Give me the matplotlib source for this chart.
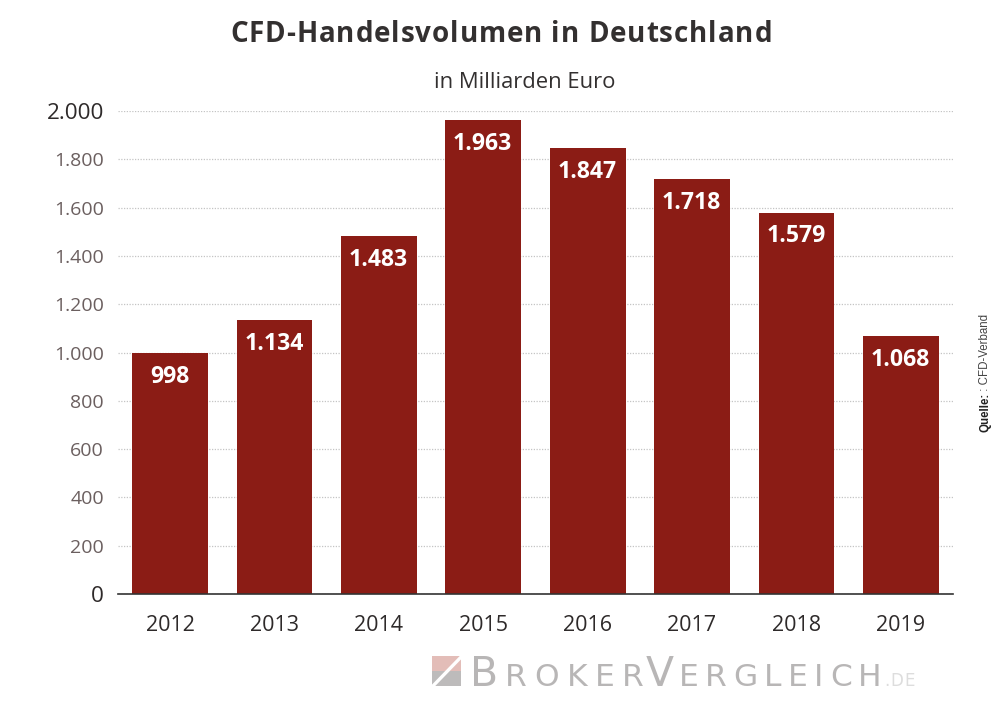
"""CFD-Handelsvolumen in Deutschland, bar chart with logo footer."""

import matplotlib

matplotlib.use("Agg")
import matplotlib.pyplot as plt
from matplotlib.lines import Line2D
from matplotlib.patches import Rectangle

years = ["2012", "2013", "2014", "2015", "2016", "2017", "2018", "2019"]
volumes = [998, 1134, 1483, 1963, 1847, 1718, 1579, 1068]
value_labels = ["998", "1.134", "1.483", "1.963", "1.847", "1.718", "1.579", "1.068"]
y_ticks = [0, 200, 400, 600, 800, 1000, 1200, 1400, 1600, 1800, 2000]
y_tick_labels = ["0", "200", "400", "600", "800", "1.000", "1.200", "1.400",
                 "1.600", "1.800", "2.000"]

W, H = 1000, 707
BAR_RED = "#8b1c15"
DARK = "#2e2a2a"
MUTED = "#6b5f5f"
LOGO_GREY = "#b8b6b6"

plt.rcParams["font.family"] = ["Open Sans", "DejaVu Sans"]

fig = plt.figure(figsize=(W / 100, H / 100), dpi=100, facecolor="white")
ax = fig.add_axes([118 / W, 1 - 594 / H, (953 - 118) / W, (594 - 111) / H])


def fx(px):
    return px / W


def fy(py):
    return 1 - py / H


def spaced_text(x0, x1, baseline, s, **kw):
    """Lay a string out char by char so it fills x0..x1 (letter-spaced text)."""
    renderer = fig.canvas.get_renderer()
    chars = [fig.text(0, 0, c, ha="left", va="baseline", **kw) for c in s]
    # advance of a char: width of "c|" minus width of "|" keeps spaces and side bearings
    probe = fig.text(0, 0, "|", **kw)
    bar_w = probe.get_window_extent(renderer).width
    adv = []
    for c in s:
        probe.set_text(c + "|")
        adv.append(probe.get_window_extent(renderer).width - bar_w)
    probe.remove()
    extra = (x1 - x0 - sum(adv)) / max(len(s) - 1, 1)
    x = x0
    for t, a in zip(chars, adv):
        t.set_position((fx(x), fy(baseline)))
        x += a + extra
    return chars


ax.bar(range(len(years)), volumes, width=0.725, color=BAR_RED, zorder=3)
ax.set_xlim(-0.5, len(years) - 0.5)
ax.set_ylim(0, 2000)

ax.set_xticks(range(len(years)), years, fontsize=15.5, color=DARK)
ax.set_yticks(y_ticks, y_tick_labels, fontsize=14, color=MUTED)
ax.tick_params(axis="both", length=0)
ax.tick_params(axis="x", pad=15)
ax.tick_params(axis="y", pad=10)

# first and last y label are drawn bigger and darker in the original
for lab in (ax.get_yticklabels()[0], ax.get_yticklabels()[-1]):
    lab.set_fontsize(16.2)
    lab.set_color(DARK)

ax.grid(axis="y", color="#c4c4c4", lw=0.9, ls=(0, (1, 1.2)), zorder=1)
ax.set_axisbelow(True)
for side in ("top", "right", "left"):
    ax.spines[side].set_visible(False)
ax.spines["bottom"].set_color("#333333")
ax.spines["bottom"].set_linewidth(1.2)
ax.spines["bottom"].set_zorder(4)

for i, (v, lab) in enumerate(zip(volumes, value_labels)):
    ax.annotate(lab, (i, v), xytext=(-0.5, -8.5), textcoords="offset points",
                ha="center", va="top", color="white", fontsize=16.6,
                fontweight="bold", zorder=5)

spaced_text(230, 772, 42, "CFD-Handelsvolumen in Deutschland", fontsize=20,
            fontweight="bold", color="#333030")
fig.text(fx(524.5), fy(82), "in Milliarden Euro", ha="center", va="center",
         fontsize=15.8, color="#333030", fontweight="medium")

# source note, rotated on the right edge
fig.text(fx(985), fy(432), "Quelle:", rotation=90, ha="center", va="bottom",
         fontsize=8.3, fontweight="bold", family="Liberation Sans", color="#222222")
fig.text(fx(985), fy(394), " : CFD-Verband", rotation=90, ha="center", va="bottom",
         fontsize=8.3, family="Liberation Sans", color="#444444")

# logo footer: two-tone square cut by a white diagonal
fig.add_artist(Rectangle((fx(432), fy(671)), 29 / W, 15 / H, color="#e3bdb8",
                         lw=0, transform=fig.transFigure))
fig.add_artist(Rectangle((fx(432), fy(686)), 29 / W, 15 / H, color="#bdbbbb",
                         lw=0, transform=fig.transFigure))
fig.add_artist(Line2D([fx(463), fx(431)], [fy(655), fy(688)], color="white", lw=2.4,
                      transform=fig.transFigure))

logo_font = dict(family="DejaVu Sans", color=LOGO_GREY)
spaced_text(470, 470, 686, "B", fontsize=29.5, **logo_font)
spaced_text(505, 644, 686, "ROKER", fontsize=22.5, **logo_font)
spaced_text(646, 646, 686, "V", fontsize=29.5, **logo_font)
spaced_text(679, 882, 686, "ERGLEICH", fontsize=22.5, **logo_font)
spaced_text(884, 915, 686, ".DE", fontsize=12, family="DejaVu Sans", color="#dddddd")

fig.savefig("out.png", dpi=100)
